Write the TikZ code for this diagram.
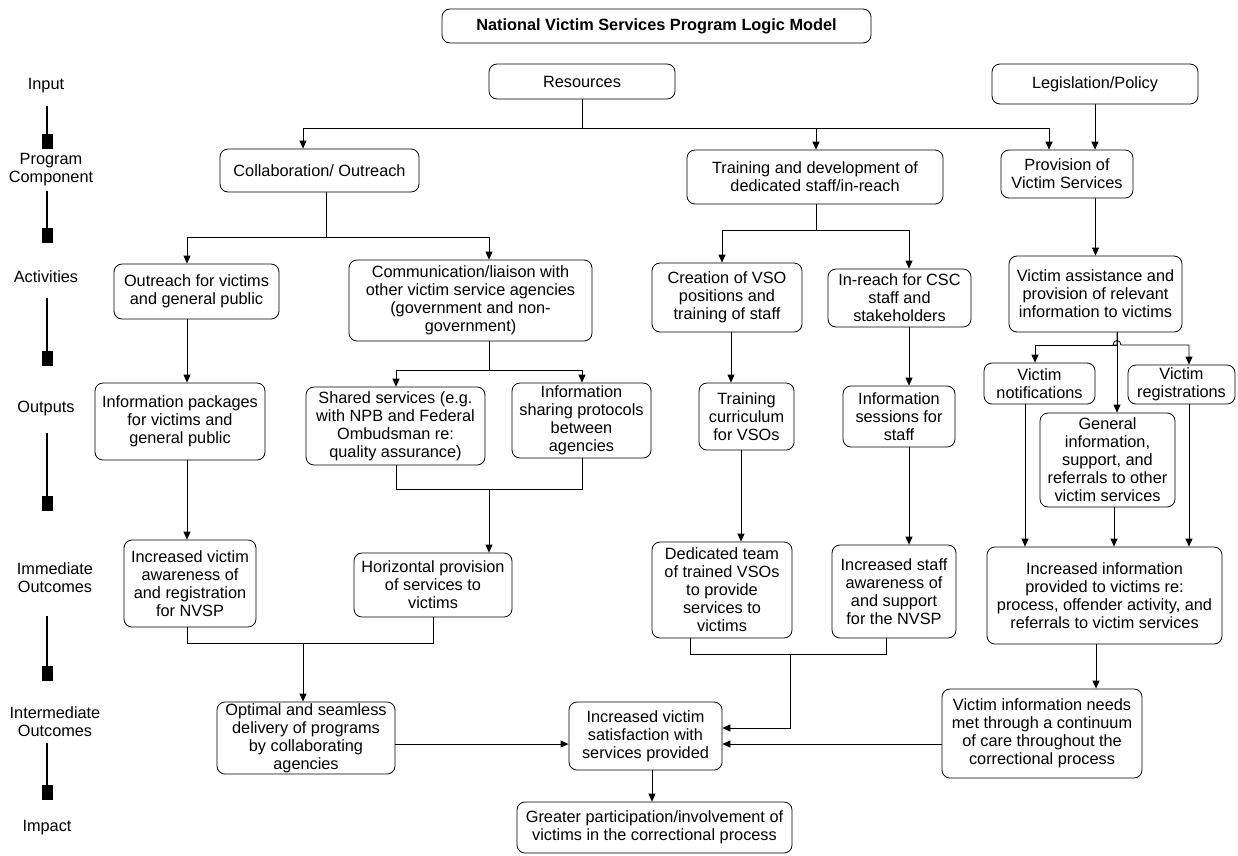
\documentclass[tikz,border=0pt]{standalone}
\usepackage{fontspec}
\setmainfont{Liberation Sans}
\usetikzlibrary{positioning, arrows.meta, calc}

\begin{document}
\begin{tikzpicture}[
    x=1pt, y=-1pt,
    module/.style={rectangle, draw, rounded corners=8pt, align=center, inner sep=1pt, line width=0.8pt, font=\fontsize{16.3}{18}\selectfont},
    arrow/.style={-{Triangle[width=7pt,length=8pt]}, line width=0.8pt},
    link/.style={-, line width=0.8pt},
    stage/.style={align=center, font=\fontsize{16.3}{18}\selectfont},
    stagebar/.style={-{Square[width=11pt,length=15pt]}, line width=2pt}
]
\useasboundingbox (0,0) rectangle (1238,855);

% Title
\node[module, font=\fontsize{16.3}{18}\selectfont\bfseries, minimum width=429pt, minimum height=34pt] (title) at (656.5,26) {National Victim Services Program Logic Model};

% Stages on the left
\node[stage] (sInput) at (46,86) {Input};
\node[stage] (sComponent) at (51,170) {Program\\Component};
\node[stage] (sActivities) at (46,277) {Activities};
\node[stage] (sOutputs) at (46,408) {Outputs};
\node[stage] (sImmediate) at (55,578) {Immediate\\Outcomes};
\node[stage] (sIntermediate) at (55,722) {Intermediate\\Outcomes};
\node[stage] (sImpact) at (47,828) {Impact};
\foreach \ya/\yb in {106/149, 191/243, 298/366, 433/511, 616/681, 743/800}
    \draw[stagebar] (47,\ya) -- (47,\yb);

% Input
\node[module, minimum width=186pt, minimum height=35pt] (resources) at (582,81.5) {Resources};
\node[module, minimum width=206pt, minimum height=40pt] (legislation) at (1095,84) {Legislation/Policy};

% Program components
\node[module, minimum width=199pt, minimum height=43pt] (collab) at (319.5,170.5) {Collaboration/ Outreach};
\node[module, minimum width=256pt, minimum height=54pt] (training) at (815,177) {Training and development of\\dedicated staff/in-reach};
\node[module, minimum width=132pt, minimum height=48pt] (provision) at (1067,174) {Provision of\\Victim Services};

% Activities
\node[module, minimum width=165pt, minimum height=55pt] (outreach) at (196.5,291.5) {Outreach for victims\\and general public};
\node[module, minimum width=243pt, minimum height=81pt] (comm) at (470.5,300.5) {Communication/liaison with\\other victim service agencies\\(government and non-\\government)};
\node[module, minimum width=150pt, minimum height=69pt] (creation) at (727,297.5) {Creation of VSO\\positions and\\training of staff};
\node[module, minimum width=143pt, minimum height=58pt] (inreach) at (899.5,298) {In-reach for CSC\\staff and\\stakeholders};
\node[module, minimum width=173pt, minimum height=76pt] (assist) at (1095.5,294) {Victim assistance and\\provision of relevant\\information to victims};

% Outputs
\node[module, minimum width=170pt, minimum height=77pt] (packages) at (180,421.5) {Information packages\\for victims and\\general public};
\node[module, minimum width=179pt, minimum height=78pt] (shared) at (395.5,426) {Shared services (e.g.\\with NPB and Federal\\Ombudsman re:\\quality assurance)};
\node[module, minimum width=139pt, minimum height=75pt] (protocols) at (581.5,420.5) {Information\\sharing protocols\\between\\agencies};
\node[module, minimum width=95pt, minimum height=67pt] (curriculum) at (746.5,416.5) {Training\\curriculum\\for VSOs};
\node[module, minimum width=112pt, minimum height=61pt] (sessions) at (899,416.5) {Information\\sessions for\\staff};
\node[module, minimum width=111pt, minimum height=41pt] (notif) at (1039.5,383.5) {Victim\\notifications};
\node[module, minimum width=107pt, minimum height=39pt] (regist) at (1181.5,384.5) {Victim\\registrations};
\node[module, minimum width=135pt, minimum height=94pt] (general) at (1107.5,460) {General\\information,\\support, and\\referrals to other\\victim services};

% Immediate outcomes
\node[module, minimum width=132pt, minimum height=87pt] (awareness) at (190,583.5) {Increased victim\\awareness of\\and registration\\for NVSP};
\node[module, minimum width=158pt, minimum height=64pt] (horizontal) at (433,585) {Horizontal provision\\of services to\\victims};
\node[module, minimum width=140pt, minimum height=96pt] (dedicated) at (722,590) {Dedicated team\\of trained VSOs\\to provide\\services to\\victims};
\node[module, minimum width=124pt, minimum height=93pt] (staffaw) at (894,591.5) {Increased staff\\awareness of\\and support\\for the NVSP};
\node[module, minimum width=235pt, minimum height=97pt] (incinfo) at (1104.5,595.5) {Increased information\\provided to victims re:\\process, offender activity, and\\referrals to victim services};

% Intermediate outcomes and impact
\node[module, minimum width=178pt, minimum height=72pt] (optimal) at (306,738) {Optimal and seamless\\delivery of programs\\by collaborating\\agencies};
\node[module, minimum width=153pt, minimum height=68pt] (satisf) at (645.5,736) {Increased victim\\satisfaction with\\services provided};
\node[module, minimum width=200pt, minimum height=89pt] (needs) at (1042,733.5) {Victim information needs\\met through a continuum\\of care throughout the\\correctional process};
\node[module, minimum width=275pt, minimum height=51pt] (greater) at (654.5,827.5) {Greater participation/involvement of\\victims in the correctional process};

% Arrows
\draw[arrow] (resources.south) |- (303,128) -- (collab.north -| 303,0);
\draw[arrow] (resources.south) |- (816,128) -- (training.north -| 816,0);
\draw[arrow] (resources.south) |- (1049,128) -- (provision.north -| 1049,0);
\draw[arrow] (legislation.south) -- (provision.north -| legislation.south);

\draw[arrow] (collab.south -| 326,0) |- (187,237) -- (outreach.north -| 187,0);
\draw[arrow] (collab.south -| 326,0) |- (489,237) -- (comm.north -| 489,0);
\draw[arrow] (training.south -| 816,0) |- (722,230) -- (creation.north -| 722,0);
\draw[arrow] (training.south -| 816,0) |- (909,230) -- (inreach.north -| 909,0);
\draw[arrow] (provision.south -| assist.north) -- (assist.north);

\draw[arrow] (outreach.south -| 187,0) -- (packages.north -| 187,0);
\draw[arrow] (comm.south -| 489,0) |- (396,370) -- (shared.north -| 396,0);
\draw[arrow] (comm.south -| 489,0) |- (582,370) -- (protocols.north -| 582,0);
\draw[arrow] (creation.south -| 731,0) -- (curriculum.north -| 731,0);
\draw[arrow] (inreach.south -| 909,0) -- (sessions.north -| 909,0);
\draw[arrow] (assist.south -| 1117,0) -- (general.north -| 1117,0);
\draw[arrow] (assist.south -| 1117,0) |- (1035,345) -- (notif.north -| 1035,0);
\draw[arrow] (assist.south -| 1117,0) |- (1113,345) .. controls (1113,339) and (1121,339) .. (1121,345) -| (regist.north -| 1189,0);

\draw[arrow] (packages.south -| 187,0) -- (awareness.north -| 187,0);
\draw[arrow] (shared.south -| 396,0) |- (489,489) -- (horizontal.north -| 489,0);
\draw[link] (protocols.south -| 582,0) |- (489,489);
\draw[arrow] (curriculum.south -| 741,0) -- (dedicated.north -| 741,0);
\draw[arrow] (sessions.south -| 909,0) -- (staffaw.north -| 909,0);
\draw[arrow] (notif.south -| 1025,0) -- (incinfo.north -| 1025,0);
\draw[arrow] (general.south -| 1114,0) -- (incinfo.north -| 1114,0);
\draw[arrow] (regist.south -| 1189,0) -- (incinfo.north -| 1189,0);

\draw[arrow] (awareness.south -| 187,0) |- (303,643) -- (optimal.north -| 303,0);
\draw[link] (horizontal.south) |- (303,643);
\draw[arrow] (dedicated.south -| 690,0) |- (790,654) |- (satisf.east |- 0,728);
\draw[link] (staffaw.south -| 886,0) |- (790,654);
\draw[arrow] (incinfo.south -| 1096,0) -- (needs.north -| 1096,0);
\draw[arrow] (needs.west |- 0,744) -- (satisf.east |- 0,744);
\draw[arrow] (optimal.east |- 0,744) -- (satisf.west |- 0,744);
\draw[arrow] (satisf.south -| 652,0) -- (greater.north -| 652,0);

\end{tikzpicture}
\end{document}
